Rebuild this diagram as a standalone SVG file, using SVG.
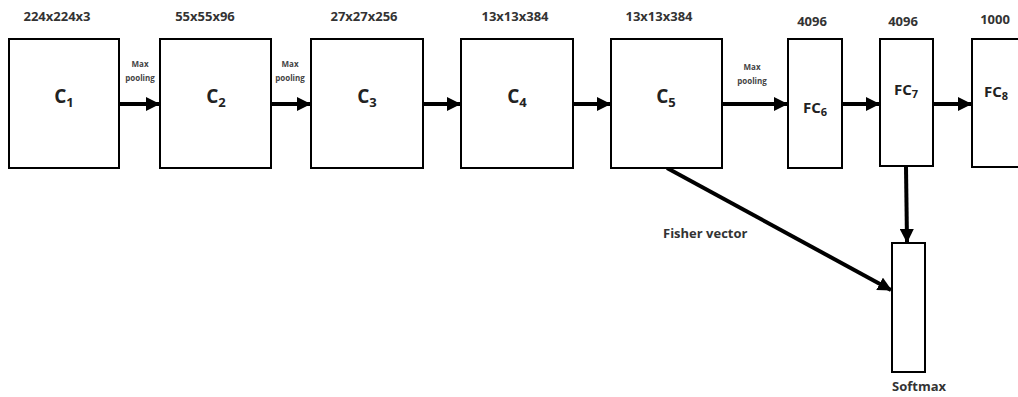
<svg xmlns="http://www.w3.org/2000/svg" width="1018" height="397" viewBox="0 0 1018 397">
<style>
.box{fill:#fff;stroke:#000;stroke-width:2}
.dim{font-family:"Open Sans","Liberation Sans",sans-serif;font-weight:bold;font-size:13px;fill:#333}
.big{font-family:"Open Sans","Liberation Sans",sans-serif;font-weight:bold;font-size:19px;fill:#222}
.fc{font-family:"Open Sans","Liberation Sans",sans-serif;font-weight:bold;font-size:15px;fill:#222}
.sm{font-family:"Open Sans","Liberation Sans",sans-serif;font-weight:bold;font-size:8px;fill:#444}
.lbl{font-family:"Open Sans","Liberation Sans",sans-serif;font-weight:bold;font-size:13px;fill:#333}
.arr{stroke:#000;stroke-width:4;fill:none;marker-end:url(#ah)}
</style>
<defs>
<marker id="ah" markerUnits="userSpaceOnUse" markerWidth="14" markerHeight="14" refX="13" refY="7" orient="auto">
<path d="M0,0 L14,7 L0,14 Z" fill="#000"/>
</marker>
</defs>
<rect width="1018" height="397" fill="#fff"/>
<g id="connectors">
<line class="arr" x1="120" y1="104" x2="159" y2="104"/>
<line class="arr" x1="272" y1="104" x2="310" y2="104"/>
<line class="arr" x1="424" y1="104" x2="460" y2="104"/>
<line class="arr" x1="573" y1="104" x2="610" y2="104"/>
<line class="arr" x1="722" y1="104" x2="787" y2="104"/>
<line class="arr" x1="843" y1="104" x2="879" y2="104"/>
<line class="arr" x1="934" y1="104" x2="971" y2="104"/>
<line class="arr" x1="906" y1="167" x2="907" y2="242"/>
<line class="arr" x1="667" y1="168" x2="891" y2="290"/>
<text class="sm" x="140" y="67" text-anchor="middle">Max</text>
<text class="sm" x="140" y="81" text-anchor="middle">pooling</text>
<text class="sm" x="290" y="67" text-anchor="middle">Max</text>
<text class="sm" x="290" y="81" text-anchor="middle">pooling</text>
<text class="sm" x="752" y="70" text-anchor="middle">Max</text>
<text class="sm" x="752" y="84" text-anchor="middle">pooling</text>
<text class="lbl" x="663" y="238">Fisher vector</text>
</g>
<g id="c1">
<rect class="box" x="9" y="39" width="110" height="129"/>
<text class="dim" x="57" y="21" text-anchor="middle">224x224x3</text>
<text class="big" x="64" y="103" text-anchor="middle">C<tspan font-size="13" dy="4">1</tspan></text>
</g>
<g id="c2">
<rect class="box" x="160" y="39" width="111" height="129"/>
<text class="dim" x="205" y="21" text-anchor="middle">55x55x96</text>
<text class="big" x="216" y="103" text-anchor="middle">C<tspan font-size="13" dy="4">2</tspan></text>
</g>
<g id="c3">
<rect class="box" x="311" y="39" width="112" height="129"/>
<text class="dim" x="364" y="21" text-anchor="middle">27x27x256</text>
<text class="big" x="367" y="103" text-anchor="middle">C<tspan font-size="13" dy="4">3</tspan></text>
</g>
<g id="c4">
<rect class="box" x="461" y="39" width="112" height="129"/>
<text class="dim" x="515" y="21" text-anchor="middle">13x13x384</text>
<text class="big" x="517" y="103" text-anchor="middle">C<tspan font-size="13" dy="4">4</tspan></text>
</g>
<g id="c5">
<rect class="box" x="611" y="39" width="111" height="129"/>
<text class="dim" x="659" y="21" text-anchor="middle">13x13x384</text>
<text class="big" x="666" y="103" text-anchor="middle">C<tspan font-size="13" dy="4">5</tspan></text>
</g>
<g id="fc6">
<rect class="box" x="788" y="39" width="54" height="129"/>
<text class="dim" x="812" y="26" text-anchor="middle">4096</text>
<text class="fc" x="815" y="113" text-anchor="middle">FC<tspan font-size="11" dy="3">6</tspan></text>
</g>
<g id="fc7">
<rect class="box" x="880" y="39" width="53" height="127"/>
<text class="dim" x="903" y="26" text-anchor="middle">4096</text>
<text class="fc" x="906" y="95" text-anchor="middle">FC<tspan font-size="11" dy="3">7</tspan></text>
</g>
<g id="fc8">
<rect class="box" x="972" y="39" width="52" height="128"/>
<text class="dim" x="995" y="24" text-anchor="middle">1000</text>
<text class="fc" x="996" y="97" text-anchor="middle">FC<tspan font-size="11" dy="3">8</tspan></text>
</g>
<g id="softmax">
<rect class="box" x="892" y="243" width="33" height="129"/>
<text class="lbl" x="892" y="391">Softmax</text>
</g>
</svg>
